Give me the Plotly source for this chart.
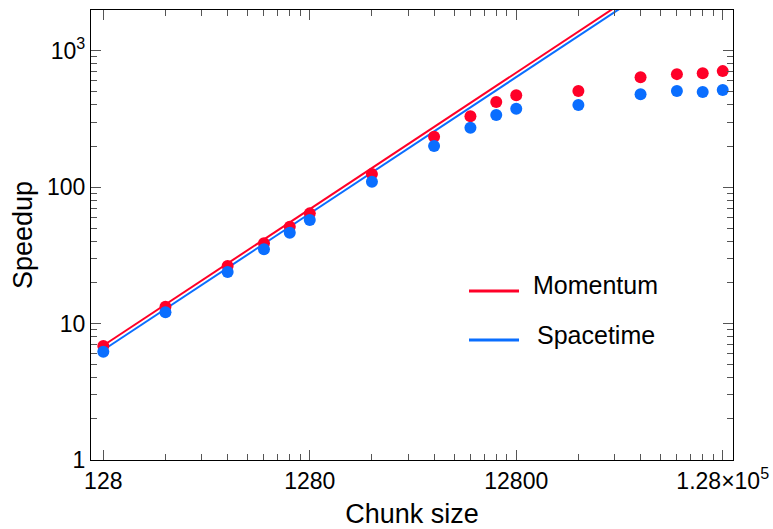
import plotly.graph_objects as go

chunk_sizes = [128, 256, 512, 768, 1024, 1280, 2560, 5120, 7680, 10240, 12800,
               25600, 51200, 76800, 102400, 128000]
momentum = [6.84, 13.3, 26.4, 38.7, 51.2, 64.2, 124.5, 234, 331, 421, 472,
            507, 639, 673, 684, 708]
spacetime = [6.22, 12.1, 23.9, 35.1, 46.3, 57.3, 109.3, 200, 272, 337, 375,
             399, 480, 507, 497, 514]

# ideal linear-scaling fits: speedup = coef * (chunk / 128)
fit_x = [128, 256000]
fit_momentum_coef = 6.9
fit_spacetime_coef = 6.4

series_names = ["Momentum", "Spacetime"]

x_tickvals = [128, 1280, 12800, 128000]
x_ticktext = ["128", "1280", "12800", "1.28×10<sup>5</sup>"]
y_tickvals = [1, 10, 100, 1000]
y_ticktext = ["1", "10", "100", "10<sup>3</sup>"]

RED = "#FF0028"
BLUE = "#0A6EFF"
FONT = "Liberation Sans, Arial, sans-serif"

x_minor = [k * 128 * 10 ** n for n in range(3) for k in range(2, 10)]
y_minor = [k * 10 ** n for n in range(4) for k in range(2, 10)]

fig = go.Figure()
fig.add_trace(go.Scatter(x=fit_x, y=[fit_momentum_coef * v / 128 for v in fit_x],
                         mode="lines", line=dict(color=RED, width=2),
                         name=series_names[0], showlegend=False))
fig.add_trace(go.Scatter(x=fit_x, y=[fit_spacetime_coef * v / 128 for v in fit_x],
                         mode="lines", line=dict(color=BLUE, width=2),
                         name=series_names[1], showlegend=False))
fig.add_trace(go.Scatter(x=chunk_sizes, y=momentum, mode="markers",
                         marker=dict(color=RED, size=12), showlegend=False,
                         name=series_names[0]))
fig.add_trace(go.Scatter(x=chunk_sizes, y=spacetime, mode="markers",
                         marker=dict(color=BLUE, size=12), showlegend=False,
                         name=series_names[1]))

axis_common = dict(
    showgrid=False, zeroline=False, showline=True, linecolor="black",
    linewidth=1.3, mirror="ticks", ticks="inside", ticklen=10, tickwidth=1.2,
    tickcolor="#555555", tickfont=dict(family=FONT, size=23, color="black"),
    automargin=False,
)

fig.update_xaxes(type="log", range=[2.0476, 5.157], tickmode="array",
                 tickvals=x_tickvals, ticktext=x_ticktext,
                 minor=dict(tickvals=x_minor, ticks="inside", ticklen=6,
                            tickwidth=1.2, tickcolor="#555555"),
                 title=dict(text="Chunk size", font=dict(family=FONT, size=27,
                                                         color="black"),
                            standoff=14),
                 **axis_common)
fig.update_yaxes(type="log", range=[0, 3.298], tickmode="array",
                 tickvals=y_tickvals, ticktext=y_ticktext,
                 minor=dict(tickvals=y_minor, ticks="inside", ticklen=6,
                            tickwidth=1.2, tickcolor="#555555"),
                 title=dict(text="Speedup", font=dict(family=FONT, size=27,
                                                      color="black"),
                            standoff=6),
                 **axis_common)

# legend drawn in plot-fraction coordinates
legend_rows = [(series_names[0], RED, 0.3756, 0.390),
               (series_names[1], BLUE, 0.2667, 0.277)]
for name, color, ly, ty in legend_rows:
    fig.add_shape(type="line", xref="paper", yref="paper", x0=0.5888, x1=0.6667,
                  y0=ly, y1=ly, line=dict(color=color, width=3))
    fig.add_annotation(xref="paper", yref="paper", x=0.7866, y=ty, text=name,
                       showarrow=False, xanchor="center", yanchor="middle",
                       font=dict(family=FONT, size=25, color="black"))

fig.update_layout(
    width=773, height=529,
    margin=dict(l=91, r=40, t=10, b=69),
    plot_bgcolor="white", paper_bgcolor="white",
    font=dict(family=FONT, color="black"),
    showlegend=False,
)

fig.write_html("out.html", config={"displayModeBar": False},
               post_script="document.body.style.margin='0';"
                           "document.body.style.overflow='hidden';")
